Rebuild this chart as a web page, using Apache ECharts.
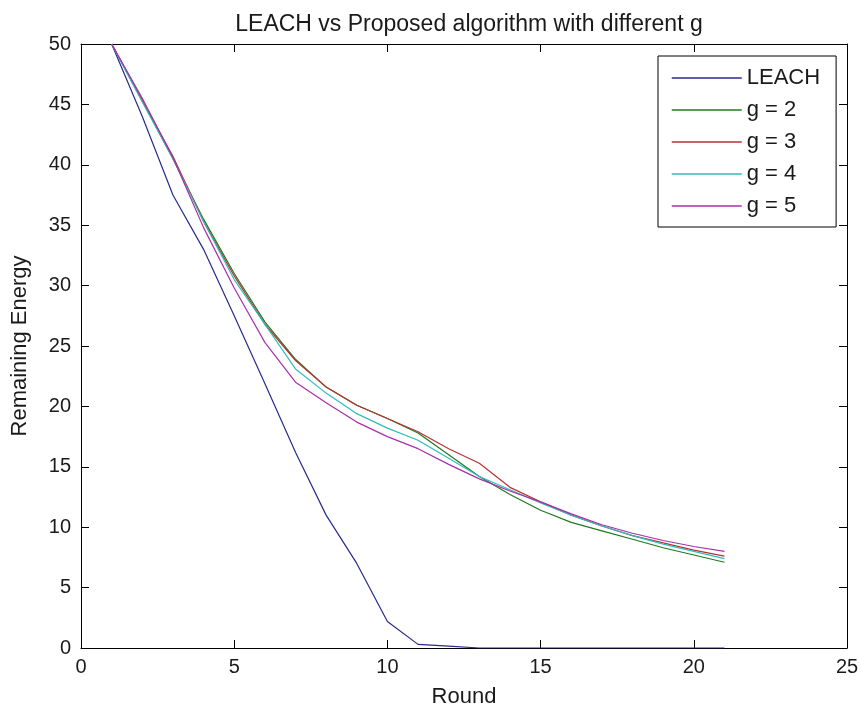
<!DOCTYPE html>
<html>
<head>
<meta charset="utf-8">
<title>LEACH vs Proposed algorithm</title>
<script src="https://cdn.jsdelivr.net/npm/echarts@6/dist/echarts.min.js"></script>
<style>
  html, body { margin: 0; padding: 0; background: #fff; }
  #chart { width: 861px; height: 713px; }
</style>
</head>
<body>
<div id="chart"></div>
<script>
// Round numbers (x axis)
const rounds = [1, 2, 3, 4, 5, 6, 7, 8, 9, 10, 11, 12, 13, 14, 15, 16, 17, 18, 19, 20, 21];

// Remaining energy per round
const leach = [50, 44, 37.5, 33, 27.5, 21.9, 16.2, 11, 7, 2.2, 0.3, 0.15, 0, 0, 0, 0, 0, 0, 0, 0, 0];
const g2 = [50, 45.3, 40.5, 35.5, 31, 27, 23.9, 21.6, 20.1, 19, 17.8, 16, 14.2, 12.7, 11.4, 10.4, 9.7, 9, 8.3, 7.7, 7.1];
const g3 = [50, 45.3, 40.7, 35.3, 30.8, 26.8, 23.8, 21.6, 20.1, 19, 17.9, 16.5, 15.3, 13.3, 12.1, 11, 10.1, 9.3, 8.7, 8.1, 7.6];
const g4 = [50, 45.2, 40.5, 35.3, 30.5, 26.8, 23.1, 21.1, 19.4, 18.2, 17.2, 15.7, 14.2, 13.1, 12, 11, 10.1, 9.3, 8.6, 8, 7.4];
const g5 = [50, 45.5, 40.6, 34.8, 29.8, 25.3, 22, 20.3, 18.7, 17.5, 16.5, 15.2, 14, 13, 12.1, 11.1, 10.2, 9.5, 8.9, 8.4, 8.0];

const seriesNames = ['LEACH', 'g = 2', 'g = 3', 'g = 4', 'g = 5'];
const seriesColors = ['#2a2a8a', '#1f7a1f', '#b83232', '#2fbcbc', '#a830a8'];
const seriesData = [leach, g2, g3, g4, g5];

// x ticks 0..25 step 5, y ticks 0..50 step 5
const xMin = 0, xMax = 25, xStep = 5;
const yMin = 0, yMax = 50, yStep = 5;

const FONT = '"Liberation Sans", Arial, sans-serif';
const TEXT = '#1a1a1a';

function pairs(ys) {
  return rounds.map((r, i) => [r, ys[i]]);
}

const baseAxis = {
  axisLine: { show: true, onZero: false, lineStyle: { color: '#000', width: 1 } },
  axisTick: { show: true, inside: true, length: 8, lineStyle: { color: '#000', width: 1 } },
  splitLine: { show: false }
};

const chart = echarts.init(document.getElementById('chart'), null, { renderer: 'canvas' });

chart.setOption({
  animation: false,
  backgroundColor: '#fff',
  title: {
    text: 'LEACH vs Proposed algorithm with different g',
    left: 464,
    top: 8,
    textAlign: 'center',
    textStyle: { fontFamily: FONT, fontSize: 23, fontWeight: 'normal', color: TEXT }
  },
  grid: { left: 81, right: 14, top: 44, bottom: 65, containLabel: false, outerBoundsMode: 'none' },
  legend: {
    orient: 'vertical',
    left: 658,
    top: 56,
    data: seriesNames,
    itemWidth: 70,
    itemHeight: 20,
    itemGap: 10,
    itemTextGap: 9,
    padding: [11, 16, 10, 13],
    borderColor: '#000',
    borderWidth: 1,
    backgroundColor: '#fff',
    itemStyle: { opacity: 0 },
    lineStyle: { width: 1.5 },
    textStyle: { fontFamily: FONT, fontSize: 22, lineHeight: 22, color: TEXT }
  },
  xAxis: [
    Object.assign({}, baseAxis, {
      type: 'value', position: 'bottom', min: xMin, max: xMax, interval: xStep,
      name: 'Round', nameLocation: 'middle', nameGap: 38,
      nameTextStyle: { fontFamily: FONT, fontSize: 22, color: TEXT },
      axisLabel: { fontFamily: FONT, fontSize: 20, color: TEXT, margin: 9 }
    }),
    Object.assign({}, baseAxis, {
      type: 'value', position: 'top', min: xMin, max: xMax, interval: xStep,
      axisLabel: { show: false }
    })
  ],
  yAxis: [
    Object.assign({}, baseAxis, {
      type: 'value', position: 'left', min: yMin, max: yMax, interval: yStep,
      name: 'Remaining Energy', nameLocation: 'middle', nameGap: 50,
      nameTextStyle: { fontFamily: FONT, fontSize: 22, color: TEXT },
      axisLabel: { fontFamily: FONT, fontSize: 20, color: TEXT, margin: 10 }
    }),
    Object.assign({}, baseAxis, {
      type: 'value', position: 'right', min: yMin, max: yMax, interval: yStep,
      axisLabel: { show: false }
    })
  ],
  series: seriesNames.map((name, i) => ({
    name: name,
    type: 'line',
    xAxisIndex: 0,
    yAxisIndex: 0,
    data: pairs(seriesData[i]),
    symbol: 'none',
    smooth: false,
    z: 2 + i,
    color: seriesColors[i],
    lineStyle: { color: seriesColors[i], width: 1.2 }
  }))
});
</script>
</body>
</html>
